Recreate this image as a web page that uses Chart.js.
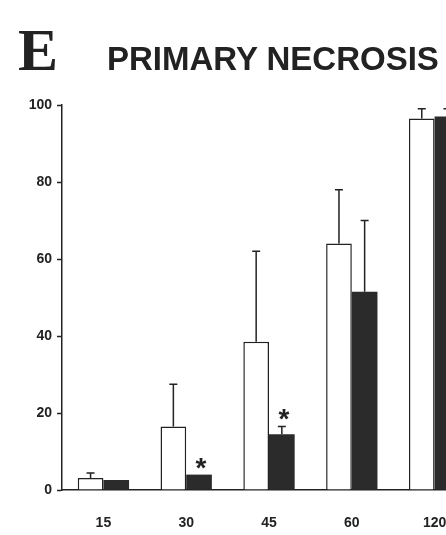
<!DOCTYPE html>
<html>
<head>
<meta charset="utf-8">
<script src="https://cdn.jsdelivr.net/npm/chart.js@4/dist/chart.umd.min.js"></script>
<style>
  html, body { margin: 0; padding: 0; background: #fff; }
  #wrap { position: relative; width: 446px; height: 535px; overflow: hidden; }
  #chartBox { position: absolute; left: 0; top: 0; width: 484px; height: 535px; }
  .panel { position: absolute; left: 18px; top: 16px; font: bold 60px "Liberation Serif", serif; color: #222; }
  .title { position: absolute; left: 107px; top: 40px; font: bold 33px "Liberation Sans", Arial, sans-serif; color: #222; white-space: nowrap; }
</style>
</head>
<body>
<div id="wrap">
  <div id="chartBox"><canvas id="necrosisChart" width="484" height="535"></canvas></div>
  <div class="panel">E</div>
  <div class="title">PRIMARY NECROSIS</div>
</div>
<script>
const timePoints = ['15', '30', '45', '60', '120'];
const whiteMeans = [3.1, 16.5, 38.5, 64, 96.5];
const whiteErr = [1.3, 11, 23.5, 14, 2.5];
const blackMeans = [2.6, 4, 14.5, 51.5, 97];
const blackErr = [0, 0, 2, 18.5, 2];
const blackStars = [false, true, true, false, false];
const yTicks = [0, 20, 40, 60, 80, 100];

const errorBars = {
    id: 'errorBars',
    afterDatasetsDraw(chart) {
        const ctx = chart.ctx;
        const yScale = chart.scales.y;
        ctx.save();
        ctx.strokeStyle = '#222';
        ctx.lineWidth = 1.5;
        chart.data.datasets.forEach((ds, i) => {
            const meta = chart.getDatasetMeta(i);
            meta.data.forEach((bar, j) => {
                const err = ds.errors[j];
                if (!err) return;
                const top = yScale.getPixelForValue(ds.data[j] + err);
                ctx.beginPath();
                ctx.moveTo(bar.x, bar.y);
                ctx.lineTo(bar.x, top);
                ctx.moveTo(bar.x - 4, top);
                ctx.lineTo(bar.x + 4, top);
                ctx.stroke();
            });
        });
        // significance stars over the black bars
        const meta = chart.getDatasetMeta(1);
        ctx.fillStyle = '#222';
        ctx.font = 'bold 28px "Liberation Sans", Arial, sans-serif';
        ctx.textAlign = 'center';
        ctx.textBaseline = 'alphabetic';
        meta.data.forEach((bar, j) => {
            if (!blackStars[j]) return;
            const top = yScale.getPixelForValue(blackMeans[j] + blackErr[j]);
            ctx.fillText('*', bar.x + 2, top + 2);
        });
        ctx.restore();
    }
};

new Chart(document.getElementById('necrosisChart'), {
    type: 'bar',
    data: {
        labels: timePoints,
        datasets: [
            {
                data: whiteMeans,
                errors: whiteErr,
                backgroundColor: '#fff',
                borderColor: '#222',
                borderWidth: 1.5,
                borderSkipped: 'bottom'
            },
            {
                data: blackMeans,
                errors: blackErr,
                backgroundColor: '#2b2b2b',
                borderColor: '#2b2b2b',
                borderWidth: 0
            }
        ]
    },
    options: {
        responsive: false,
        animation: false,
        layout: { padding: { top: 105, right: 8, left: 0, bottom: 0 } },
        datasets: { bar: { categoryPercentage: 0.62, barPercentage: 1.0 } },
        plugins: { legend: { display: false }, tooltip: { enabled: false } },
        scales: {
            x: {
                grid: { display: false },
                border: { display: true, color: '#222', width: 1.5 },
                ticks: {
                    color: '#222',
                    padding: 17,
                    font: { family: '"Liberation Sans", Arial, sans-serif', size: 14, weight: 'bold' }
                },
                afterFit(scale) { scale.height = 45; }
            },
            y: {
                min: 0,
                max: 100,
                afterBuildTicks(scale) { scale.ticks = yTicks.map(v => ({ value: v })); },
                grid: { drawOnChartArea: false, drawTicks: true, tickLength: 5, tickColor: '#222', tickWidth: 1.5 },
                border: { display: true, color: '#222', width: 1.5 },
                ticks: {
                    color: '#222',
                    padding: 5,
                    font: { family: '"Liberation Sans", Arial, sans-serif', size: 14, weight: 'bold' }
                },
                afterFit(scale) { scale.width = 62; }
            }
        }
    },
    plugins: [errorBars]
});
</script>
</body>
</html>
